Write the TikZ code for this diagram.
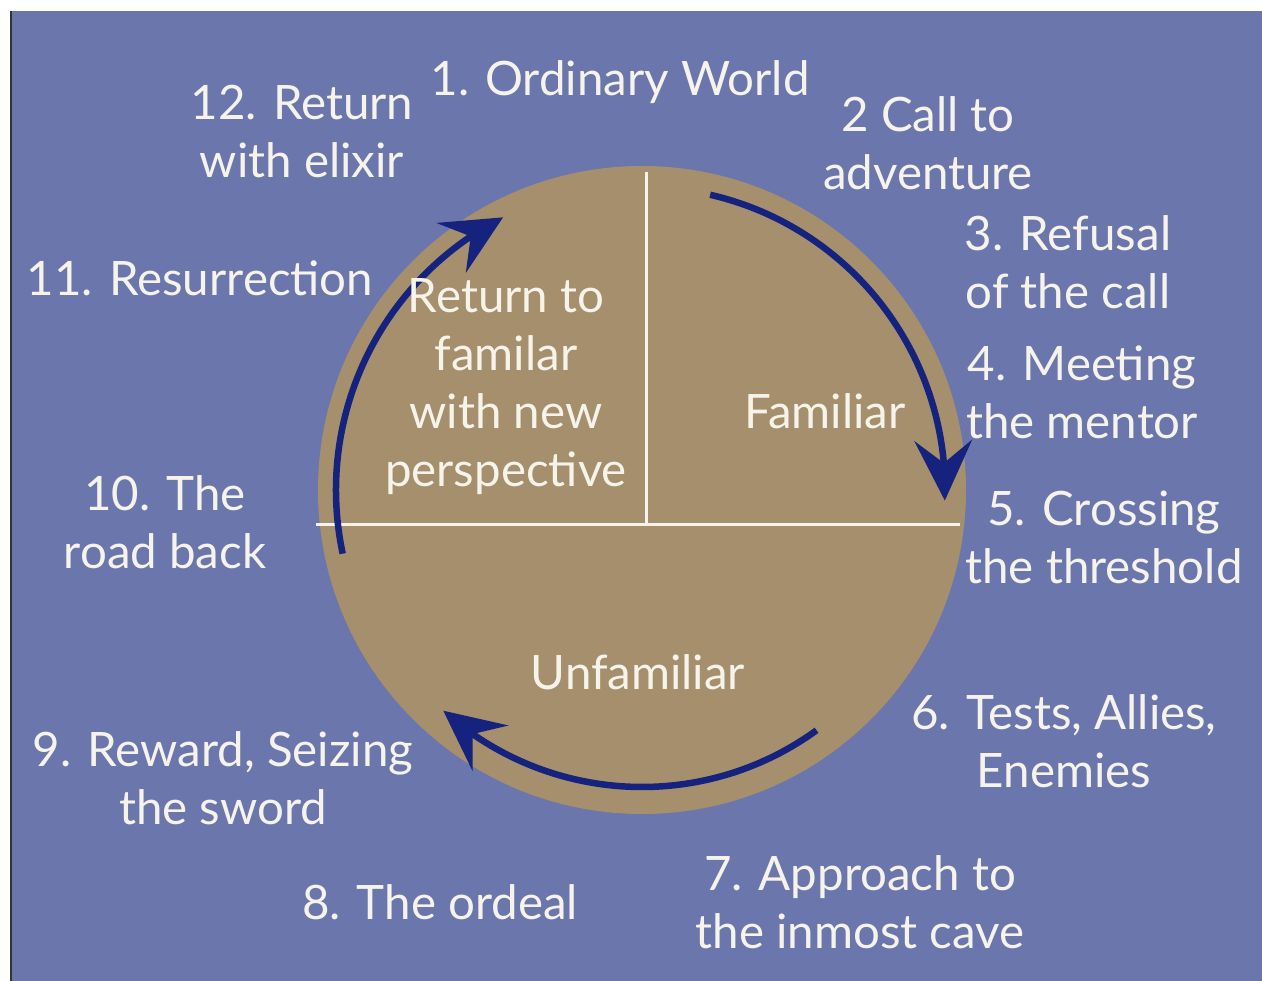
\documentclass[tikz,border=0pt]{standalone}
\usepackage{fontspec}
\setmainfont{Lato}
\usetikzlibrary{arrows.meta,bending}

\definecolor{skyblue}{HTML}{6B76AC}
\definecolor{sand}{HTML}{A58F6C}
\definecolor{navy}{HTML}{15237E}
\definecolor{chalk}{HTML}{F6F3EA}

\tikzset{
  stage/.style={text=chalk, align=center, font=\fontsize{27}{33}\selectfont},
  journey/.style={draw=navy, line width=0.13cm, -{Stealth[length=1.2cm, width=1.15cm, inset=0.45cm]}},
  divider/.style={draw=chalk, line width=0.06cm}
}

\begin{document}
\begin{tikzpicture}[x=0.02cm, y=0.02cm]
        \useasboundingbox (0, 0) rectangle (1262, 981);
        \fill [white] (0, 0) rectangle (1262, 981);
        \fill [skyblue] (11, 0) rectangle (1262, 970);
        \draw [black!80, line width=0.04cm] (11, 0) -- (11, 970);

        \coordinate (hub) at (642, 491);
        \fill [sand] (hub) circle [radius=324];
        \draw [divider] (316, 456) -- (960, 456);
        \draw [divider] (646, 456) -- (646, 809);

        \draw [journey] ([shift={(77:303)}]hub) arc [start angle=77, end angle=-2, radius=303];
        \draw [journey] ([shift={(-54:297)}]hub) arc [start angle=-54, end angle=-132, radius=297];
        \draw [journey] ([shift={(192:306)}]hub) arc [start angle=192, end angle=117, radius=306];

        \node [stage] (familiar) at (825, 570) {Familiar};
        \node [stage] (unfamiliar) at (638, 309) {Unfamiliar};
        \node [stage] (backhome) at (506, 594) {Return to\\familar\\with new\\perspective};

        \node [stage] (ordinary) at (620, 899) {1. Ordinary World};
        \node [stage] (call) at (928, 838) {2 Call to\\adventure};
        \node [stage] (refusal) at (1068, 719) {3. Refusal\\of the call};
        \node [stage] (mentor) at (1082, 589) {4. Meeting\\the mentor};
        \node [stage] (threshold) at (1104, 444) {5. Crossing\\the threshold};
        \node [stage] (tests) at (1064, 240) {6. Tests, Allies,\\Enemies};
        \node [stage] (cave) at (860, 79) {7. Approach to\\the inmost cave};
        \node [stage] (ordeal) at (440, 79) {8. The ordeal};
        \node [stage] (reward) at (223, 203) {9. Reward, Seizing\\the sword};
        \node [stage] (roadback) at (165, 459) {10. The\\road back};
        \node [stage] (resurrection) at (200, 703) {11. Resurrection};
        \node [stage] (elixir) at (302, 849) {12. Return\\with elixir};
\end{tikzpicture}
\end{document}
